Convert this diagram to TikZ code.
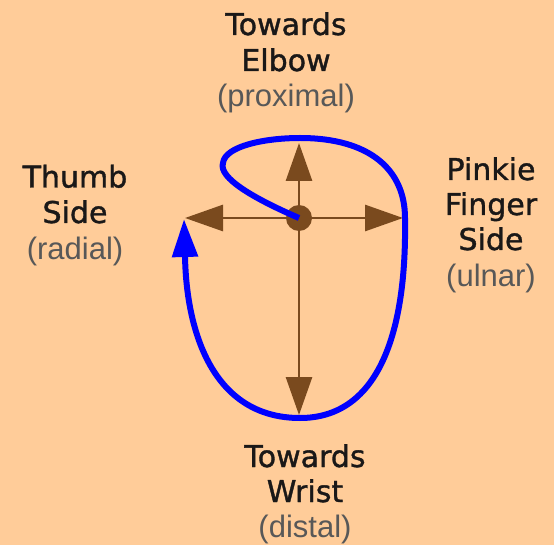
\documentclass[tikz,border=0pt]{standalone}
\usepackage{fontspec}
\setmainfont{Liberation Sans}
\newfontfamily\labelfont[FakeBold=1.2]{DejaVu Sans}
\usetikzlibrary{arrows.meta}
\definecolor{peach}{RGB}{255,204,153}
\definecolor{armbrown}{RGB}{122,74,30}
\definecolor{darktext}{RGB}{26,24,24}
\definecolor{graytext}{RGB}{88,88,88}
\begin{document}
\begin{tikzpicture}[x=1pt,y=-1pt,
  lbl/.style={inner sep=0pt,anchor=base,text=darktext,font=\labelfont\fontsize{30}{36}\selectfont},
  sub/.style={inner sep=0pt,anchor=base,text=graytext,font=\fontsize{31}{36}\selectfont},
  dirarrow/.style={draw=armbrown,line width=2.8pt,-{Triangle[length=38pt,width=26pt,fill=armbrown]}},
  motion/.style={draw=blue,line width=6pt,-{Triangle[length=38pt,width=25pt,fill=blue]}}]
\fill[peach] (0,0) rectangle (554,545);
\useasboundingbox (0,0) rectangle (554,545);
% labels
\node[lbl] (t1) at (286,35) {Towards};
\node[lbl] (t2) at (286,71) {Elbow};
\node[sub] (t3) at (286,106.5) {(proximal)};
\node[lbl] (l1) at (75,187.5) {Thumb};
\node[lbl] (l2) at (75,223) {Side};
\node[sub] (l3) at (75,260) {(radial)};
\node[lbl] (r1) at (491,180) {Pinkie};
\node[lbl] (r2) at (491,215) {Finger};
\node[lbl] (r3) at (491,250) {Side};
\node[sub] (r4) at (491,287) {(ulnar)};
\node[lbl] (b1) at (305,467) {Towards};
\node[lbl] (b2) at (305,502) {Wrist};
\node[sub] (b3) at (305,537) {(distal)};
% axes
\coordinate (c0) at (299,218);
\coordinate (upT) at (299,143);
\coordinate (dnT) at (299,415);
\coordinate (lfT) at (185,218);
\coordinate (rtT) at (403,218);
\draw[dirarrow] (c0) -- (upT);
\draw[dirarrow] (c0) -- (dnT);
\draw[dirarrow] (c0) -- (lfT);
\draw[dirarrow] (c0) -- (rtT);
\node[circle,fill=armbrown,minimum size=26pt,inner sep=0pt] (dot) at (c0) {};
% motion path
\coordinate (m1) at (223,163);
\coordinate (m2) at (300,138);
\coordinate (m3) at (405,218);
\coordinate (m4) at (300,418);
\coordinate (m5) at (185,255);
\coordinate (mT) at (184,219);
\draw[motion] (dot.center) .. controls (255,199) and (218,178) .. (m1)
  .. controls (225,146) and (265,138) .. (m2)
  .. controls (370,138) and (405,170) .. (m3)
  .. controls (407,340) and (375,418) .. (m4)
  .. controls (212,418) and (186,330) .. (m5)
  -- (mT);
\end{tikzpicture}
\end{document}
